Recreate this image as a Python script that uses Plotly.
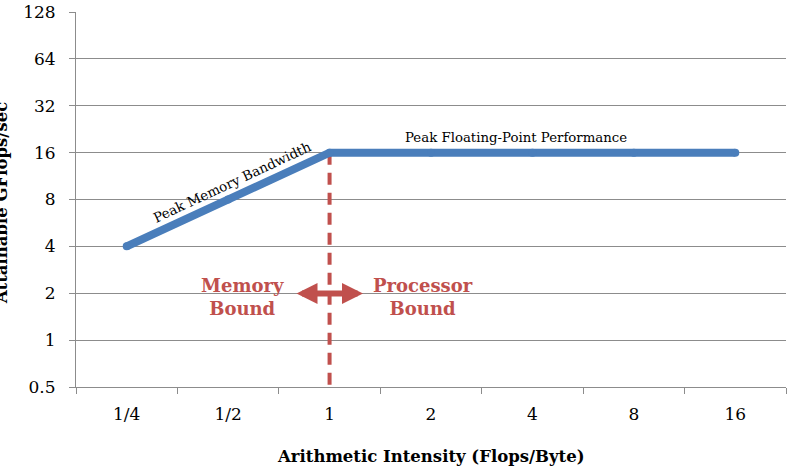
import plotly.graph_objects as go
import math

# ---- data ----
categories = ["1/4", "1/2", "1", "2", "4", "8", "16"]
roofline = [4, 8, 16, 16, 16, 16, 16]
ridge_x = ["1", "1"]
ridge_y = [16, 0.5]
y_ticks = [0.5, 1, 2, 4, 8, 16, 32, 64, 128]
y_tick_text = ["0.5", "1", "2", "4", "8", "16", "32", "64", "128"]

W, H = 788, 474
L, R, T, B = 76, 2, 10, 87
PW, PH = W - L - R, H - T - B

def px(x, y):
    return (x - L) / PW, (H - B - y) / PH

FONT = "DejaVu Serif"
RED = "#C0504D"
BLUE = "#4A7EBB"
GRID = "#8C8C8C"

fig = go.Figure()
fig.add_trace(go.Scatter(
    x=ridge_x, y=ridge_y, mode="lines",
    line=dict(color=RED, width=4, dash="12px,8px"),
    hoverinfo="skip", showlegend=False))
fig.add_trace(go.Scatter(
    x=categories, y=roofline, mode="lines+markers",
    line=dict(color=BLUE, width=8),
    marker=dict(color=BLUE, size=8),
    showlegend=False))

ann = []
def text_ann(x, y, text, size, color="black", bold=False, angle=0):
    xp, yp = px(x, y)
    ann.append(dict(xref="paper", yref="paper", x=xp, y=yp, text=f"<b>{text}</b>" if bold else text,
                    showarrow=False, textangle=angle, xanchor="center", yanchor="middle",
                    font=dict(family=FONT, size=size, color=color)))

text_ann(232, 181, "Peak Memory Bandwidth", 13.5, angle=-25)
text_ann(516, 136, "Peak Floating-Point Performance", 13.3)
text_ann(242, 297, "Memory<br>Bound", 18, color=RED, bold=True)
text_ann(423, 297, "Processor<br>Bound", 18, color=RED, bold=True)
text_ann(430, 457, "Arithmetic Intensity (Flops/Byte)", 16.5, bold=True)
text_ann(2, 202, "Attainable GFlops/sec", 16.5, bold=True, angle=-90)

x1, y1 = px(363, 293)
ann.append(dict(xref="paper", yref="paper", x=x1, y=y1, ax=-68, ay=0,
                axref="pixel", ayref="pixel", text="", showarrow=True,
                arrowhead=2, arrowside="end+start", arrowwidth=6, arrowsize=0.7,
                arrowcolor=RED, standoff=0, startstandoff=0))

fig.update_layout(
    width=W, height=H,
    margin=dict(l=L, r=R, t=T, b=B),
    paper_bgcolor="white", plot_bgcolor="white",
    font=dict(family=FONT, size=17, color="black"),
    annotations=ann,
    xaxis=dict(type="category", categoryorder="array", categoryarray=categories,
               range=[-0.5, len(categories) - 0.5],
               showgrid=False, showline=True, linecolor=GRID, linewidth=1,
               ticks="outside", tickson="boundaries", ticklen=6, tickcolor=GRID,
               tickfont=dict(size=17), ticklabelstandoff=12, zeroline=False),
    yaxis=dict(type="log", range=[math.log10(0.5), math.log10(128)],
               tickvals=y_ticks, ticktext=y_tick_text,
               showgrid=True, gridcolor=GRID, gridwidth=1,
               showline=True, linecolor=GRID, linewidth=1,
               ticks="outside", ticklen=6, tickcolor=GRID,
               tickfont=dict(size=17), ticklabelstandoff=10, zeroline=False,
               ticklabeloverflow="allow"),
)
fig.write_html("out.html")
